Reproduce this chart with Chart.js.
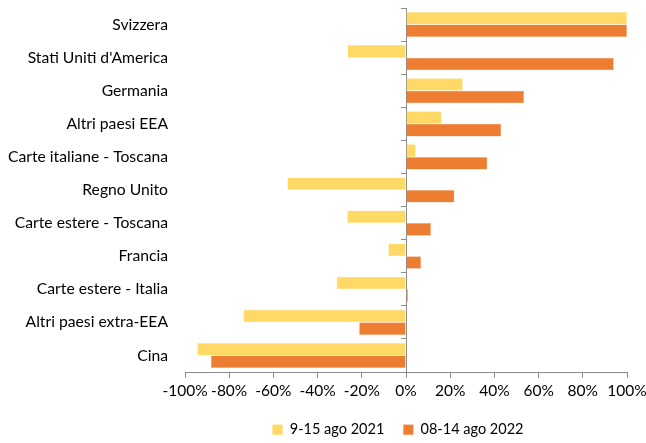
<!DOCTYPE html>
<html><head><meta charset="utf-8">
<script src="https://cdn.jsdelivr.net/npm/chart.js@4/dist/chart.umd.min.js"></script>
<style>html,body{margin:0;padding:0;background:#fff}#wrap{width:646px;height:443px}</style>
</head><body><div id="wrap"><canvas id="c"></canvas></div>
<script>
const categories = ["Svizzera","Stati Uniti d'America","Germania","Altri paesi EEA","Carte italiane - Toscana","Regno Unito","Carte estere - Toscana","Francia","Carte estere - Italia","Altri paesi extra-EEA","Cina"];
const series2021 = [100, -26.5, 25.7, 16.1, 4.4, -53.7, -26.6, -8, -31.4, -73.6, -94.4];
const series2022 = [100, 94, 53.4, 43.1, 36.8, 21.9, 11.3, 6.8, 0.9, -21.2, -88.3];
const seriesNames = ["9-15 ago 2021", "08-14 ago 2022"];
const xTicks = [-100,-80,-60,-40,-20,0,20,40,60,80,100];

const FONT = "Lato, 'Open Sans', sans-serif";
Chart.defaults.font.family = FONT;
Chart.defaults.color = '#000';

const legendShift = {
  id: 'legendShift',
  afterLayout(chart) {
    if (chart.legend) { chart.legend.left -= 8; chart.legend.right -= 8; }
  }
};

new Chart(document.getElementById('c'), {
  type: 'bar',
  data: {
    labels: categories,
    datasets: [
      {label: seriesNames[0], data: series2021, backgroundColor: '#FFD966', borderColor: '#FFE699', borderWidth: 0.5, yAxisID: 'y'},
      {label: seriesNames[1], data: series2022, backgroundColor: '#ED7D31', borderColor: '#F4B183', borderWidth: 0.5, yAxisID: 'y'}
    ]
  },
  plugins: [legendShift],
  options: {
    indexAxis: 'y',
    responsive: true,
    maintainAspectRatio: false,
    animation: false,
    layout: {padding: {top: 0, right: 0, left: 0, bottom: -4}},
    datasets: {bar: {categoryPercentage: 0.76, barPercentage: 1.0}},
    scales: {
      x: {
        min: -100, max: 100,
        afterBuildTicks: (s) => { s.ticks = xTicks.map(v => ({value: v})); },
        ticks: {callback: v => v + '%', font: {size: 15.5, family: FONT}, padding: 4, maxRotation: 0, autoSkip: false},
        grid: {drawOnChartArea: false, drawTicks: true, tickLength: 6, color: '#8c8c8c'},
        border: {display: true, color: '#8c8c8c'},
        afterFit: (s) => { s.paddingLeft = 0; s.paddingRight = 19; s.height = 31.5; }
      },
      y: {
        position: 'left',
        ticks: {font: {size: 15.7, family: FONT}, padding: 2},
        grid: {display: true, drawOnChartArea: false, drawTicks: true, tickLength: 15, color: 'rgba(0,0,0,0)'},
        border: {display: false},
        afterFit: (s) => { s.width = 185; s.paddingTop = 8; s.paddingBottom = 0; }
      },
      y2: {
        type: 'category',
        position: {x: 0},
        axis: 'y',
        offset: true,
        ticks: {display: false},
        grid: {drawOnChartArea: false, drawTicks: true, tickLength: 5, offset: true, color: '#8c8c8c'},
        border: {display: true, color: '#8c8c8c'}
      }
    },
    plugins: {
      legend: {
        position: 'bottom',
        fullSize: false,
        labels: {boxWidth: 10, boxHeight: 10, font: {size: 14.5, family: FONT}, padding: 19, color: '#000'}
      },
      tooltip: {enabled: false}
    }
  }
});
</script></body></html>
